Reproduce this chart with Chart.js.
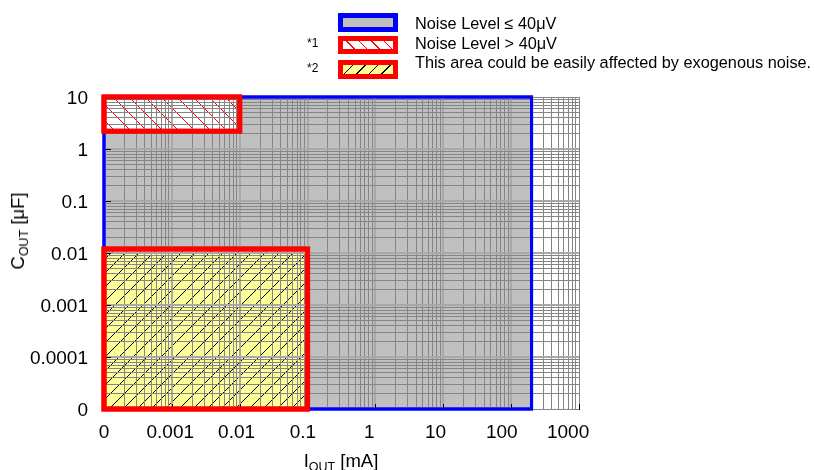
<!DOCTYPE html>
<html><head><meta charset="utf-8">
<script src="https://cdn.jsdelivr.net/npm/chart.js@4"></script>
<style>
html,body{margin:0;padding:0;background:#fff;}
#wrap{position:relative;width:814px;height:470px;overflow:hidden;font-family:'Liberation Sans',Arial,sans-serif;color:#000;}
canvas{position:absolute;left:0;top:0;}
.sw{position:absolute;left:338px;width:60px;box-sizing:border-box;border:5px solid #f00;}
.lt{position:absolute;left:415px;font-size:16.3px;line-height:18px;white-space:nowrap;}
.note{position:absolute;left:307px;font-size:12px;line-height:14px;white-space:nowrap;}
.ttl{position:absolute;font-size:18.5px;line-height:20px;white-space:nowrap;}
.ttl sub{font-size:12.5px;vertical-align:baseline;position:relative;top:4px;}
</style></head><body>
<div id="wrap">
<canvas id="c" width="814" height="470"></canvas>
<div class="sw" style="top:13px;height:19px;border-color:#0000ff;background:#c0c0c0"></div>
<div class="sw" style="top:36px;height:18px;background:repeating-linear-gradient(45deg,#fff 0 7.6px,#f00 7.6px 8.8px)"></div>
<div class="sw" style="top:60px;height:19px;background:repeating-linear-gradient(-45deg,#ffff99 0 7.6px,#000 7.6px 8.8px)"></div>
<div id="legendText"></div>
<div class="ttl" id="xt" style="left:341px;top:451px;transform:translateX(-50%)">I<sub>OUT</sub> [mA]</div>
<div class="ttl" id="yt" style="left:19px;top:231px;transform:translate(-50%,-50%) rotate(-90deg)">C<sub>OUT</sub> [μF]</div>
</div>
<script>
// ---- data ----
const iTickLabels = ['0','0.001','0.01','0.1','1','10','100','1000'];   // IOUT [mA]
const cTickLabels = ['0','0.0001','0.001','0.01','0.1','1','10'];        // COUT [uF]
const lowNoiseIout  = [0, 200];   const lowNoiseCout  = [0, 10];
const highNoiseIout = [0, 0.01];  const highNoiseCout = [2.2, 10];
const exoIout       = [0, 0.1];   const exoCout       = [0, 0.012];
const legendLabels = ['Noise Level ≤ 40μV', 'Noise Level > 40μV', 'This area could be easily affected by exogenous noise.'];
const legendNotes  = ['', '*1', '*2'];

// legend text
const lt = document.getElementById('legendText');
const textTops = [14, 34, 53];
const noteTops = [0, 36, 61];
legendLabels.forEach((t, i) => {
  const d = document.createElement('div'); d.className = 'lt'; d.style.top = textTops[i] + 'px'; d.textContent = t; lt.appendChild(d);
  if (legendNotes[i]) { const n = document.createElement('div'); n.className = 'note'; n.style.top = noteTops[i] + 'px'; n.textContent = legendNotes[i]; lt.appendChild(n); }
});

Chart.defaults.font.family = "'Liberation Sans', Arial, sans-serif";
const xPos = v => v <= 0 ? 0 : Math.log10(v) + 4;   // 0.001 mA -> 1
const yPos = v => v <= 0 ? 0 : Math.log10(v) + 5;   // 0.0001 uF -> 1

const canvas = document.getElementById('c');
const cctx = canvas.getContext('2d');
function hatch(bg, fg, size, dir) {
  const c = document.createElement('canvas'); c.width = c.height = size;
  const g = c.getContext('2d');
  g.fillStyle = bg; g.fillRect(0, 0, size, size);
  g.strokeStyle = fg; g.lineWidth = 1; g.beginPath();
  if (dir === '/') {
    g.moveTo(-1, size + 1); g.lineTo(size + 1, -1);
    g.moveTo(-1, 1); g.lineTo(1, -1);
    g.moveTo(size - 1, size + 1); g.lineTo(size + 1, size - 1);
  } else {
    g.moveTo(-1, -1); g.lineTo(size + 1, size + 1);
    g.moveTo(size - 1, -1); g.lineTo(size + 1, 1);
    g.moveTo(-1, size - 1); g.lineTo(1, size + 1);
  }
  g.stroke();
  return cctx.createPattern(c, 'repeat');
}

function fillSet(I, C, bg, order) {
  return { data: [{x: xPos(I[0]), y: yPos(C[1])}, {x: xPos(I[1]), y: yPos(C[1])}],
    showLine: true, fill: {target: {value: yPos(C[0])}}, backgroundColor: bg,
    borderColor: 'rgba(0,0,0,0)', borderWidth: 0, pointRadius: 0, order };
}
function outlineSet(I, C, color, width, order) {
  const x0 = xPos(I[0]), x1 = xPos(I[1]), y0 = yPos(C[0]), y1 = yPos(C[1]);
  return { data: [{x:x0,y:y0},{x:x1,y:y0},{x:x1,y:y1},{x:x0,y:y1},{x:x0,y:y0}],
    showLine: true, fill: false, borderColor: color, borderWidth: width,
    borderCapStyle: 'square', borderJoinStyle: 'miter', pointRadius: 0, clip: false, order };
}

const xGrid = []; for (let d = 0; d < iTickLabels.length - 1; d++) for (let k = 1; k <= 9; k++) xGrid.push(d + Math.log10(k)); xGrid.push(iTickLabels.length - 1);
const yGrid = []; for (let d = 0; d < cTickLabels.length - 1; d++) for (let k = 1; k <= 9; k++) yGrid.push(d + Math.log10(k)); yGrid.push(cTickLabels.length - 1);
const isMajor = v => Math.abs(v - Math.round(v)) < 1e-9;
const gColor = (v, max) => (isMajor(v) && v > 0 && v < max) ? '#a8a8a8' : '#858585';
const gWidth = (v, max) => (isMajor(v) && v > 0 && v < max) ? 2 : 1;

const datasets = [
  fillSet(lowNoiseIout, lowNoiseCout, '#c0c0c0', 10),
  fillSet(highNoiseIout, highNoiseCout, hatch('#ffffff', '#ff0000', 16, '\\'), 9),
  fillSet(exoIout, exoCout, hatch('#ffff99', '#000000', 14, '/'), 8),
  outlineSet(lowNoiseIout, lowNoiseCout, '#0000ff', 3, 3),
  outlineSet(highNoiseIout, highNoiseCout, '#ff0000', 5, 2),
  outlineSet(exoIout, exoCout, '#ff0000', 5, 1)
];

const overlay = {
  id: 'overlay',
  afterDraw(chart) {
    const ctx = chart.ctx, xs = chart.scales.x, ys = chart.scales.y, a = chart.chartArea;
    ctx.save(); ctx.strokeStyle = '#000'; ctx.lineWidth = 1; ctx.beginPath();
    for (let i = 0; i < iTickLabels.length; i++) { const px = Math.round(xs.getPixelForValue(i)) + 0.5; ctx.moveTo(px, a.bottom); ctx.lineTo(px, a.bottom - 5); }
    for (let j = 0; j < cTickLabels.length; j++) { const py = Math.round(ys.getPixelForValue(j)) + 0.5; ctx.moveTo(a.left, py); ctx.lineTo(a.left + 7, py); }
    ctx.stroke(); ctx.restore();
    // outlines on top of grid
    [3, 4, 5].forEach(i => { const m = chart.getDatasetMeta(i); if (m.dataset) m.dataset.draw(ctx, a); });
  }
};

new Chart(canvas, {
  type: 'scatter',
  data: { datasets },
  options: {
    responsive: false, animation: false, events: [],
    layout: { padding: { top: 97, right: 235, left: 0, bottom: 0 } },
    plugins: { legend: { display: false }, tooltip: { enabled: false } },
    scales: {
      x: { type: 'linear', min: 0, max: iTickLabels.length - 1, position: 'bottom', weight: 0,
        afterBuildTicks: s => { s.ticks = xGrid.map(v => ({ value: v })); },
        afterFit: s => { s.height = 0; },
        ticks: { display: false },
        grid: { z: 1, drawTicks: false, color: c => gColor(c.tick.value, 7), lineWidth: c => gWidth(c.tick.value, 7) },
        border: { display: true, color: '#000', width: 1, z: 1 } },
      xl: { type: 'linear', axis: 'x', min: 0, max: 7.165, position: 'bottom', weight: 1,
        afterBuildTicks: s => { s.ticks = iTickLabels.map((_, i) => ({ value: i })); },
        afterFit: s => { s.height = 61; },
        ticks: { callback: (v, i) => iTickLabels[i], autoSkip: false, maxRotation: 0, padding: 12, color: '#000', font: { size: 19 } },
        grid: { display: false, drawTicks: false }, border: { display: false } },
      y: { type: 'linear', min: 0, max: cTickLabels.length - 1,
        afterBuildTicks: s => { s.ticks = yGrid.map(v => ({ value: v })); },
        afterFit: s => { s.width = 104; },
        ticks: { callback: v => isMajor(v) ? cTickLabels[Math.round(v)] : '', autoSkip: false, padding: 16, labelOffset: 2, color: '#000', font: { size: 19 } },
        grid: { z: 1, drawTicks: false, color: c => gColor(c.tick.value, 6), lineWidth: c => gWidth(c.tick.value, 6) },
        border: { display: false } }
    }
  },
  plugins: [overlay]
});
</script>
</body></html>
